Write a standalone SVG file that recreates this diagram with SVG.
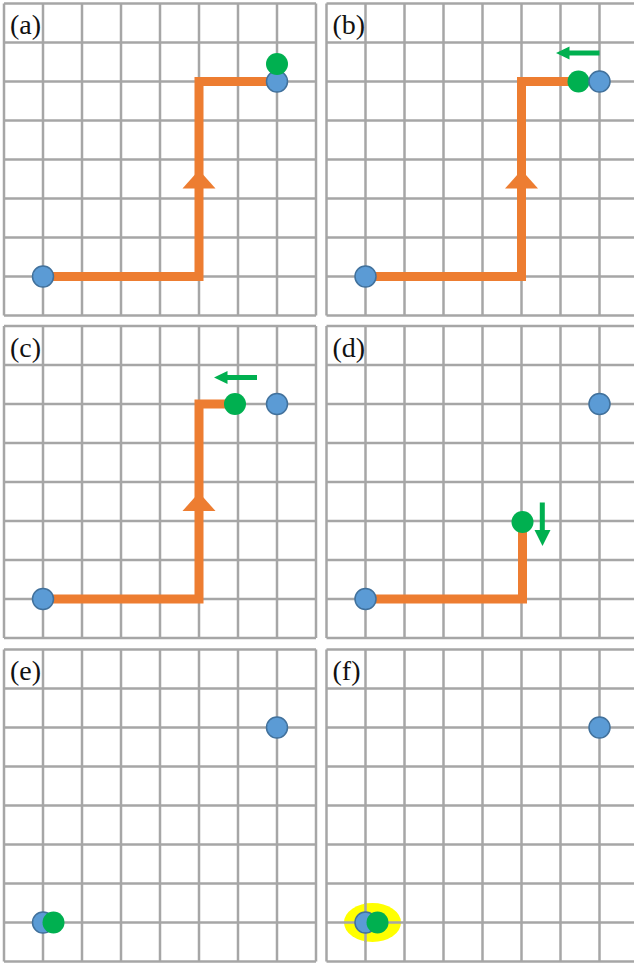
<svg xmlns="http://www.w3.org/2000/svg" xmlns:xlink="http://www.w3.org/1999/xlink" width="634" height="965" viewBox="0 0 634 965">
<style>
.grid line{stroke:#a6a6a6;stroke-width:2.5}
.path{fill:none;stroke:#ED7D31;stroke-width:9;stroke-linejoin:miter;stroke-linecap:butt}
.head{fill:#ED7D31}
.blue{fill:#5B9BD5;stroke:#41719C;stroke-width:1.5}
.green{fill:#00B050}
.garrow{fill:#00B050}
.lbl{font-family:"Liberation Serif","Times New Roman",serif;font-size:28px;fill:#111}
</style>
<defs>
<g id="grid" class="grid">
<line x1="0" y1="0" x2="0" y2="312"/><line x1="39" y1="0" x2="39" y2="312"/><line x1="78" y1="0" x2="78" y2="312"/><line x1="117" y1="0" x2="117" y2="312"/><line x1="156" y1="0" x2="156" y2="312"/><line x1="195" y1="0" x2="195" y2="312"/><line x1="234" y1="0" x2="234" y2="312"/><line x1="273" y1="0" x2="273" y2="312"/><line x1="312" y1="0" x2="312" y2="312"/>
<line x1="0" y1="0" x2="312" y2="0"/><line x1="0" y1="39" x2="312" y2="39"/><line x1="0" y1="78" x2="312" y2="78"/><line x1="0" y1="117" x2="312" y2="117"/><line x1="0" y1="156" x2="312" y2="156"/><line x1="0" y1="195" x2="312" y2="195"/><line x1="0" y1="234" x2="312" y2="234"/><line x1="0" y1="273" x2="312" y2="273"/><line x1="0" y1="312" x2="312" y2="312"/>
</g>
<polygon id="uphead" points="195,166.5 211.5,185 178.5,185"/>
</defs>

<g id="panel-a" transform="translate(4,3.5)">
<use xlink:href="#grid"/>
<text class="lbl" x="6" y="30.5">(a)</text>
<path class="path" d="M39,273 H195 V78 H273"/>
<use xlink:href="#uphead" class="head"/>
<circle class="blue" cx="39" cy="273" r="10.5"/>
<circle class="blue" cx="273" cy="78" r="10.5"/>
<circle class="green" cx="273" cy="60.5" r="11"/>
</g>

<g id="panel-b" transform="translate(326.5,3.5)">
<use xlink:href="#grid"/>
<text class="lbl" x="6" y="30.5">(b)</text>
<path class="path" d="M39,273 H195 V78 H252"/>
<use xlink:href="#uphead" class="head"/>
<circle class="blue" cx="39" cy="273" r="10.5"/>
<circle class="green" cx="252" cy="78" r="11"/>
<circle class="blue" cx="273" cy="78" r="10.5"/>
<path class="garrow" d="M273,47 H243 V43 L229.5,49.5 L243,56 V52 H273 Z"/>
</g>

<g id="panel-c" transform="translate(4,326)">
<use xlink:href="#grid"/>
<text class="lbl" x="6" y="30.5">(c)</text>
<path class="path" d="M39,273 H195 V78 H231"/>
<use xlink:href="#uphead" class="head"/>
<circle class="blue" cx="39" cy="273" r="10.5"/>
<circle class="blue" cx="273" cy="78" r="10.5"/>
<circle class="green" cx="231" cy="78" r="11"/>
<path class="garrow" d="M253,49 H223.5 V45 L210,51.5 L223.5,58 V54 H253 Z"/>
</g>

<g id="panel-d" transform="translate(326.5,326)">
<use xlink:href="#grid"/>
<text class="lbl" x="6" y="30.5">(d)</text>
<path class="path" d="M39,273 H196 V196"/>
<circle class="blue" cx="39" cy="273" r="10.5"/>
<circle class="blue" cx="273" cy="78" r="10.5"/>
<circle class="green" cx="196" cy="196" r="11"/>
<path class="garrow" d="M213.3,176.5 V204 H208 L216,220 L224,204 H218.3 V176.5 Z"/>
</g>

<g id="panel-e" transform="translate(4,649.5)">
<use xlink:href="#grid"/>
<text class="lbl" x="6" y="30.5">(e)</text>
<circle class="blue" cx="273" cy="78" r="10.5"/>
<circle class="blue" cx="39" cy="273" r="10.5"/>
<circle class="green" cx="49.5" cy="273" r="11"/>
</g>

<g id="panel-f" transform="translate(326.5,649.5)">
<use xlink:href="#grid"/>
<text class="lbl" x="6" y="30.5">(f)</text>
<ellipse cx="46" cy="273" rx="28.5" ry="19.5" fill="#FFFF00"/>
<line x1="17.5" y1="273" x2="74.5" y2="273" stroke="#a6a6a6" stroke-width="2.5"/>
<line x1="39" y1="253.5" x2="39" y2="292.5" stroke="#a6a6a6" stroke-width="2.5"/>
<circle class="blue" cx="273" cy="78" r="10.5"/>
<circle class="blue" cx="39" cy="273" r="10.5"/>
<circle class="green" cx="51" cy="273" r="11"/>
</g>
</svg>
